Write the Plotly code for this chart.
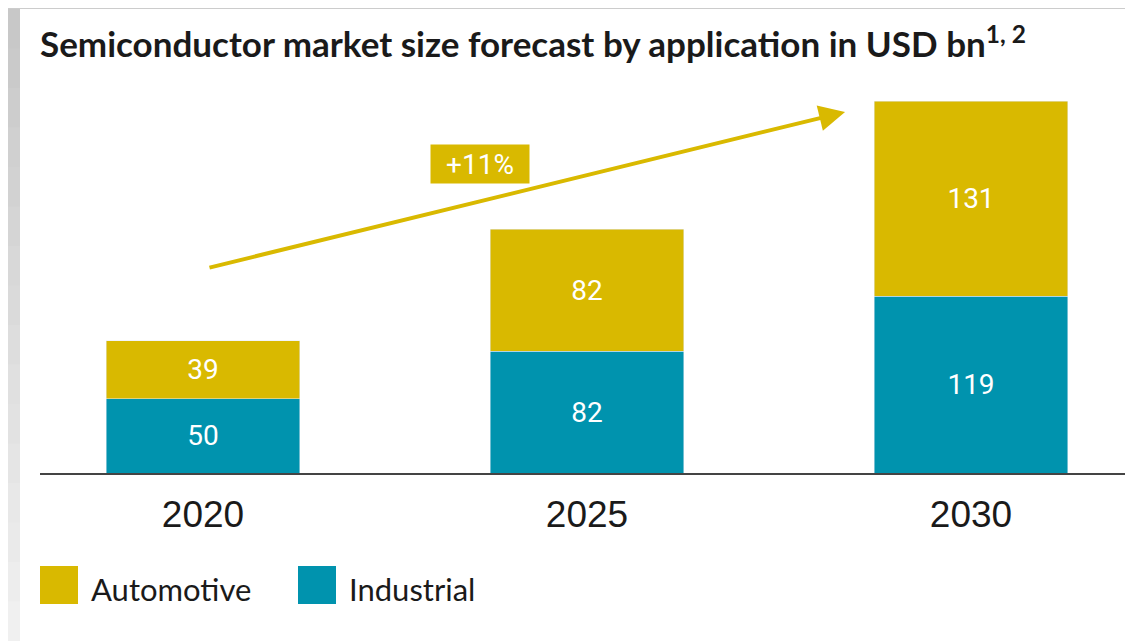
"""Semiconductor market size forecast, stacked bars."""
import plotly.graph_objects as go

# data
years = ["2020", "2025", "2030"]
industrial = [50, 82, 119]
automotive = [39, 82, 131]
cagr_label = "+11%"
title_text = "Semiconductor market size forecast by application in USD bn<sup>1, 2</sup>"

GOLD = "#d9b900"
TEAL = "#0093ae"
INK = "#1a1a1a"

# the page puts the figure 8px in from the top-left corner
OFF = 8
W, H = 1133, 641
M_L, M_R, M_T, M_B = 40 - OFF, 0, 80 - OFF, H - (473 - OFF)
PW, PH = W - M_L - M_R, H - M_T - M_B
CAT_PX = 384          # pixels between category centres
FIRST_PX = 203        # screen x of first category centre
X_LO = (40 - FIRST_PX) / CAT_PX
X_HI = X_LO + PW / CAT_PX


def px_x(px):
    # screen pixel -> paper fraction
    return (px - OFF - M_L) / PW


def px_y(py):
    return (H - M_B - (py - OFF)) / PH


label_font = dict(family="Roboto", size=28, color="white")

fig = go.Figure()
fig.add_trace(go.Bar(
    x=years, y=industrial, name="Industrial", marker_color=TEAL,
    text=industrial, textposition="inside", insidetextanchor="middle",
    textfont=label_font, width=0.503, hoverinfo="skip",
))
fig.add_trace(go.Bar(
    x=years, y=automotive, name="Automotive", marker_color=GOLD,
    text=automotive, textposition="inside", insidetextanchor="middle",
    textfont=label_font, width=0.503, hoverinfo="skip",
))

# growth arrow from 2020 towards 2030
fig.add_annotation(
    x=1.672, y=242.8, ax=0.013, ay=137.9, xref="x", yref="y", axref="x", ayref="y",
    text="", showarrow=True, arrowhead=2, arrowsize=1.3, arrowwidth=4,
    arrowcolor=GOLD, standoff=0,
)
fig.add_annotation(
    x=0.721, y=207.8, xref="x", yref="y", text=cagr_label, showarrow=False,
    bgcolor=GOLD, width=98, height=38, borderpad=0,
    font=dict(family="Roboto", size=28, color="white"),
)

# background: gray frame with white card
shapes = [dict(type="rect", xref="paper", yref="paper", layer="below",
               x0=px_x(20), x1=px_x(W + 20), y0=px_y(H + 20), y1=px_y(9),
               fillcolor="white", line_width=0)]
n_bands = 16
for i in range(n_bands):
    g = int(0xc8 + (0xf0 - 0xc8) * i / (n_bands - 1))
    shapes.append(dict(type="rect", xref="paper", yref="paper", layer="below",
                       x0=px_x(0), x1=px_x(20),
                       y0=px_y(9 + (H - 9) * (i + 1) / n_bands + 1),
                       y1=px_y(9 + (H - 9) * i / n_bands),
                       fillcolor=f"rgb({g},{g},{g})", line_width=0))

# manual legend with large swatches
legend_items = [("Automotive", GOLD, 40), ("Industrial", TEAL, 298)]
for name, color, x0 in legend_items:
    shapes.append(dict(type="rect", xref="paper", yref="paper",
                       x0=px_x(x0), x1=px_x(x0 + 38), y0=px_y(604), y1=px_y(566),
                       fillcolor=color, line_width=0))
    fig.add_annotation(x=px_x(x0 + 49), y=px_y(589), xref="paper", yref="paper",
                       text=name, showarrow=False, xanchor="left", yanchor="middle",
                       font=dict(family="Lato", size=31, color=INK))

fig.update_layout(
    width=W, height=H,
    margin=dict(l=M_L, r=M_R, t=M_T, b=M_B),
    barmode="stack", showlegend=False,
    paper_bgcolor="#cccccc", plot_bgcolor="white",
    shapes=shapes,
    title=dict(text=title_text, x=0, xref="paper", xanchor="left",
               y=1 - (45 - OFF) / H, yanchor="middle",
               font=dict(family="Lato", size=35, color=INK, weight="bold")),
    xaxis=dict(range=[X_LO, X_HI], showline=True, linecolor="#444444",
               linewidth=2, showgrid=False, zeroline=False, ticks="outside",
               ticklen=8, tickcolor="rgba(0,0,0,0)", fixedrange=True,
               tickfont=dict(family="Liberation Sans, Arial", size=37, color=INK)),
    yaxis=dict(range=[0, PH / 1.487], visible=False, fixedrange=True),
)

fig.write_html("out.html")
